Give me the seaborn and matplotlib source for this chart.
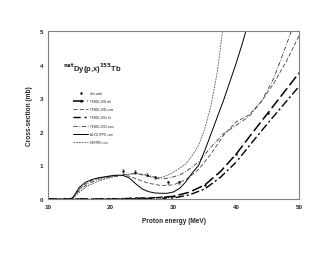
import matplotlib
matplotlib.use("Agg")
import matplotlib.pyplot as plt
import seaborn as sns
import numpy as np

# measured points (this work)
exp_e = [21.9, 23.9, 25.7, 27.1, 29.2, 30.9]
exp_xs = [0.83, 0.80, 0.72, 0.64, 0.50, 0.50]
exp_err = [0.05, 0.05, 0.05, 0.04, 0.04, 0.04]

# TENDL 2011 direct
t11d_e = list(range(10, 31)) + [32.5, 35, 37.5, 40, 42.5, 45, 47.5, 50]
t11d_xs = [0, 0, 0, 0, 0, 0, 0, 0, 0, 0, 0, 0.005, 0.01, 0.015, 0.02, 0.025,
           0.03, 0.035, 0.045, 0.06, 0.08, 0.2, 0.42, 0.82, 1.34, 1.95, 2.55,
           3.15, 3.75]

# TENDL 2011 cumulative
t11c_e = [13.8, 15, 16, 17, 18, 20, 22, 23, 24, 26, 28, 30, 32, 34, 36, 38, 40,
          42, 44, 46, 47, 48, 50]
t11c_xs = [0, 0.3, 0.45, 0.55, 0.61, 0.67, 0.7, 0.68, 0.6, 0.47, 0.4, 0.42,
           0.58, 0.88, 1.35, 1.9, 2.3, 2.5, 2.9, 3.45, 3.78, 4.1, 4.86]

# TENDL 2013 direct
t13d_e = list(range(10, 31)) + [32.5, 35, 37.5, 40, 42.5, 45, 47.5, 50]
t13d_xs = [0, 0, 0, 0, 0, 0, 0, 0, 0, 0, 0, 0, 0, 0.005, 0.005, 0.01,
           0.01, 0.015, 0.02, 0.025, 0.03, 0.12, 0.3, 0.65, 1.1, 1.68, 2.25,
           2.8, 3.35]

# TENDL 2013 cumulative
t13c_e = [13.8, 15, 16, 17, 18, 20, 22, 24, 26, 27, 28, 29, 30, 31, 32, 34,
          36, 38, 40, 42, 44, 46, 48, 49, 50]
t13c_xs = [0, 0.26, 0.4, 0.5, 0.58, 0.66, 0.72, 0.76, 0.68, 0.62, 0.6, 0.62,
           0.66, 0.72, 0.82, 1.1, 1.55, 1.95, 2.2, 2.45, 2.9, 3.6, 4.6, 5.1, 5.6]

# ALICE-IPPE cumulative
alice_e = [13.5, 14, 15, 16, 17, 18, 19, 20, 21, 22, 23, 24, 25, 26, 27, 28,
           29, 30, 31, 32, 33, 34, 35, 36, 37, 38, 39, 40, 41, 42]
alice_xs = [0, 0.05, 0.35, 0.5, 0.58, 0.63, 0.66, 0.69, 0.71, 0.7, 0.62, 0.45,
            0.3, 0.22, 0.18, 0.17, 0.17, 0.21, 0.32, 0.52, 0.78, 1.0, 1.45,
            1.95, 2.45, 2.95, 3.5, 4.05, 4.65, 5.3]

# EMPIRE cumulative
emp_e = [13.5, 14, 15, 16, 17, 18, 20, 22, 24, 25, 26, 27, 28, 29, 30, 31, 32,
         33, 34, 35, 36, 37, 38]
emp_xs = [0, 0.03, 0.2, 0.35, 0.45, 0.53, 0.64, 0.72, 0.76, 0.74, 0.7, 0.65,
          0.64, 0.7, 0.8, 0.92, 1.05, 1.3, 1.6, 2.1, 2.8, 3.8, 5.3]

sns.set_style("white")
plt.rcParams['font.family'] = ['Liberation Sans', 'DejaVu Sans']

fig = plt.figure(figsize=(3.3, 2.55), dpi=100)
ax = fig.add_axes([0.1455, 0.2157, 0.7606, 0.6588])

# markers only on the tabulated 1 MeV / 5 MeV grid points
dir_marks = list(range(0, 21)) + [22, 24, 26, 28]

ax.errorbar(exp_e, exp_xs, yerr=exp_err, fmt='none', ecolor='#555555',
            elinewidth=0.4, capsize=1.0, capthick=0.4, zorder=3)
sns.scatterplot(x=exp_e, y=exp_xs, ax=ax, color='black', s=3, linewidth=0,
                label='this work', zorder=4)
sns.lineplot(x=t11d_e, y=t11d_xs, ax=ax, color='black', lw=1.1,
             linestyle=(0, (7, 2.5)), marker='o', markersize=1.8,
             markeredgewidth=0, markevery=dir_marks, label='TENDL 2011 dir',
             sort=False, estimator=None)
sns.lineplot(x=t11c_e, y=t11c_xs, ax=ax, color='#444444', lw=0.6,
             linestyle=(0, (5, 2.5)), label='TENDL 2011 cum', sort=False, estimator=None)
sns.lineplot(x=t13d_e, y=t13d_xs, ax=ax, color='black', lw=1.0,
             linestyle=(0, (6, 2, 1.5, 2)), marker='+', markersize=2,
             markeredgewidth=0.5, markevery=dir_marks, label='TENDL 2013 dir',
             sort=False, estimator=None)
sns.lineplot(x=t13c_e, y=t13c_xs, ax=ax, color='#333333', lw=0.6,
             linestyle=(0, (5, 2, 1, 2)), label='TENDL 2013 cum', sort=False, estimator=None)
sns.lineplot(x=alice_e, y=alice_xs, ax=ax, color='black', lw=0.7,
             label='ALICE-IPPE cum', sort=False, estimator=None)
sns.lineplot(x=emp_e, y=emp_xs, ax=ax, color='#333333', lw=0.5,
             linestyle=(0, (2.5, 1.5)), label='EMPIRE cum', sort=False, estimator=None)

ax.set_xlim(10, 50)
ax.set_ylim(0, 5)
ax.set_xticks([10, 20, 30, 40, 50])
ax.set_yticks([0, 1, 2, 3, 4, 5])
ax.tick_params(axis='both', labelsize=4.5, length=1.5, width=0.5, pad=2,
               color='#808080')
for lab in ax.get_xticklabels() + ax.get_yticklabels():
    lab.set_fontweight('bold')
for sp in ax.spines.values():
    sp.set_color('#808080')
    sp.set_linewidth(0.8)

ax.set_xlabel('Proton energy (MeV)', fontsize=4.7, fontweight='bold', labelpad=6)
ax.set_ylabel('Cross-section (mb)', fontsize=4.7, fontweight='bold', labelpad=5)

ax.text(0.06, 0.78, r'$^{\mathbf{nat}}$Dy(p,x)$^{\mathbf{155}}$Tb',
        transform=ax.transAxes, fontsize=5.5, fontweight='bold', va='center')

leg = ax.legend(loc='upper left', bbox_to_anchor=(0.1, 0.645), frameon=False,
                fontsize=2.2, borderaxespad=0, borderpad=0, handlelength=5,
                handletextpad=0.4, labelspacing=1.4)

fig.savefig('out.png', dpi=100)
